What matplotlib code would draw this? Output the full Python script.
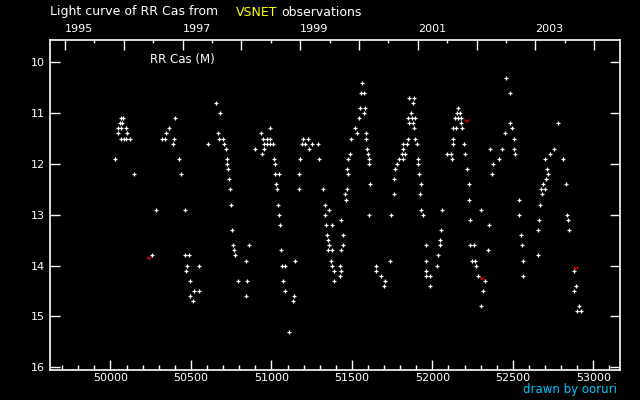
import numpy as np
import matplotlib
matplotlib.use("Agg")
from matplotlib import pyplot as plt
from matplotlib.path import Path

# observations (MJD, visual magnitude)
mjd = [50065, 50079, 50057, 50071, 50048, 50063, 50098, 50045, 50104,
       50067, 50082, 50096, 50119, 50030, 50148, 50284, 50256,
       50402, 50365, 50347, 50396, 50318, 50338, 50390, 50427, 50440, 50465,
       50465, 50486, 50477, 50471, 50552, 50496, 50520, 50548, 50496, 50514,
       50657, 50682, 50670, 50676, 50697, 50607, 50707, 50715, 50725, 50725,
       50732, 50738, 50744, 50748, 50756, 50763, 50769, 50775, 50862, 50843,
       50794, 50850, 50843,
       50937, 50992, 50949, 50970, 50992, 50953, 50974, 50991, 51011, 50899,
       50955, 50943, 51017, 51024, 51024, 51045, 51030, 51036, 51042, 51048,
       51055, 51061, 51146, 51063, 51084, 51073, 51086, 51142, 51135, 51110,
       51197, 51228, 51191, 51208, 51251, 51291, 51231, 51177, 51293, 51172,
       51172,
       51322, 51334, 51359, 51334, 51340, 51378, 51346, 51446, 51353, 51359,
       51442, 51353, 51378, 51433, 51371, 51378, 51427, 51390, 51433, 51427,
       51386, 51433,
       51564, 51558, 51576, 51552, 51581, 51576, 51545, 51520, 51587, 51533,
       51496, 51589, 51595, 51486, 51601, 51477, 51607, 51605, 51471, 51477,
       51614, 51471, 51458, 51465, 51607, 51651, 51651, 51682, 51707, 51700,
       51738, 51744, 51763, 51763, 51769, 51781, 51790, 51818, 51812, 51833,
       51818, 51818, 51840, 51846, 51893, 51887, 51852, 51881, 51850, 51871,
       51891, 51868, 51881, 51856, 51887, 51902, 51908, 51912, 51918, 51930,
       51924, 51930, 51943, 51961, 51961, 51961, 51961, 51983, 51986,
       52030, 52036, 52048, 52048, 52055, 52061, 52094, 52117, 52123, 52129,
       52129, 52129, 52150, 52185, 52179, 52141, 52160, 52179, 52154, 52171,
       52160, 52197, 52204, 52216, 52227, 52228, 52235, 52303, 52353, 52235,
       52258, 52346, 52247, 52268, 52272, 52284, 52328, 52315, 52303, 52359,
       52378, 52415, 52371,
       52458, 52483, 52483, 52496, 52452, 52506, 52430, 52508, 52514, 52539,
       52539, 52554, 52558, 52564, 52564,
       52778, 52756, 52732, 52700, 52812, 52713, 52719, 52705, 52688, 52831,
       52676, 52699, 52682, 52670, 52663, 52657, 52657, 52837, 52843, 52850,
       52881, 52893, 52881, 52912, 52899, 52924]
mag = [11.1, 11.1, 11.2, 11.2, 11.3, 11.3, 11.3, 11.4, 11.4,
       11.5, 11.5, 11.5, 11.5, 11.9, 12.2, 12.9, 13.8,
       11.1, 11.3, 11.4, 11.5, 11.5, 11.5, 11.6, 11.9, 12.2, 12.9,
       13.8, 13.8, 14.0, 14.1, 14.0, 14.3, 14.5, 14.5, 14.6, 14.7,
       10.8, 11.0, 11.4, 11.5, 11.5, 11.6, 11.6, 11.7, 11.9, 12.0,
       12.1, 12.3, 12.5, 12.8, 13.3, 13.6, 13.7, 13.8, 13.6, 13.9,
       14.3, 14.3, 14.6,
       11.4, 11.3, 11.5, 11.5, 11.5, 11.6, 11.6, 11.6, 11.6, 11.7,
       11.7, 11.8, 11.9, 12.0, 12.2, 12.2, 12.4, 12.5, 12.8, 13.0,
       13.2, 13.7, 13.9, 14.0, 14.0, 14.3, 14.5, 14.6, 14.7, 15.3,
       11.5, 11.5, 11.6, 11.6, 11.6, 11.6, 11.7, 11.9, 11.9, 12.2,
       12.5,
       12.5, 12.8, 12.9, 13.0, 13.2, 13.2, 13.4, 13.4, 13.5, 13.6,
       13.6, 13.7, 13.7, 13.7, 13.9, 14.0, 14.0, 14.1, 14.1, 14.2,
       14.3, 13.1,
       10.4, 10.6, 10.6, 10.9, 10.9, 11.0, 11.1, 11.3, 11.4, 11.4,
       11.5, 11.5, 11.7, 11.8, 11.8, 11.9, 11.9, 12.0, 12.1, 12.2,
       12.4, 12.5, 12.6, 12.7, 13.0, 14.0, 14.1, 14.2, 14.3, 14.4,
       13.9, 13.0, 12.6, 12.3, 12.1, 12.0, 11.9, 11.9, 11.8, 11.8,
       11.7, 11.6, 11.6, 11.5, 11.5, 11.3, 11.2, 11.2, 11.1, 11.1,
       11.1, 11.0, 10.8, 10.7, 10.7, 11.6, 11.9, 12.0, 12.2, 12.4,
       12.6, 12.9, 13.0, 13.6, 13.9, 14.1, 14.2, 14.2, 14.4,
       14.0, 13.8, 13.6, 13.5, 13.3, 12.9, 11.8, 11.8, 11.9, 11.6,
       11.5, 11.3, 11.3, 11.3, 11.2, 11.1, 11.1, 11.1, 11.0, 11.0,
       10.9, 11.6, 11.8, 12.1, 12.4, 12.7, 13.1, 12.9, 13.2, 13.6,
       13.6, 13.7, 13.9, 13.9, 14.0, 14.2, 14.3, 14.5, 14.8, 11.7,
       12.0, 11.9, 12.2,
       10.3, 10.6, 11.2, 11.3, 11.4, 11.5, 11.7, 11.7, 11.8, 12.7,
       13.0, 13.4, 13.6, 13.9, 14.2,
       11.2, 11.7, 11.8, 11.9, 11.9, 12.1, 12.2, 12.3, 12.4, 12.4,
       12.5, 12.5, 12.6, 12.8, 13.1, 13.3, 13.8, 13.0, 13.1, 13.3,
       14.1, 14.4, 14.5, 14.8, 14.9, 14.9]

# fainter-than observations (red marks)
lim_mjd = [50241, 52216, 52309, 52893]
lim_mag = [13.85, 11.15, 14.25, 14.05]

# calendar years on the top axis (MJD of 1 January)
years = [1995, 1996, 1997, 1998, 1999, 2000, 2001, 2002, 2003, 2004]
year_mjd = [49718, 50083, 50449, 50814, 51179, 51544, 51910, 52275, 52640, 53005]

fig = plt.figure(figsize=(6.4, 4.0), dpi=100, facecolor="black")
ax = fig.add_axes([0.0786, 0.075, 0.8906, 0.8238], facecolor="black")

ax.plot(mjd, mag, linestyle="none", marker="+", color="white",
        markersize=3.0, markeredgewidth=0.9)

vmark = Path([(-1, 0.6), (0, -0.6), (1, 0.6)],
             [Path.MOVETO, Path.LINETO, Path.LINETO])
ax.scatter(lim_mjd, lim_mag, marker=vmark, s=10, facecolors="none",
           edgecolors="red", linewidths=0.9)

ax.set_xlim(49626, 53168)
ax.set_ylim(16.053, 9.571)

for sp in ax.spines.values():
    sp.set_color("white")
    sp.set_linewidth(1.2)

ax.set_xticks(np.arange(50000, 53001, 500))
ax.set_xticks(np.arange(49700, 53101, 100), minor=True)
ax.set_yticks(np.arange(10, 17, 1))
ax.tick_params(axis="x", which="major", direction="in", length=7.2,
               width=1, colors="white", labelsize=8, pad=2)
ax.tick_params(axis="x", which="minor", direction="in", length=3.6,
               width=1, colors="white")
ax.tick_params(axis="y", which="major", direction="in", length=7.2,
               width=1, colors="white", labelsize=8, pad=4, right=True)

# top axis in years
ax2 = ax.twiny()
ax2.set_xlim(ax.get_xlim())
ax2.set_xticks(year_mjd)
ax2.set_xticklabels([str(y) if y % 2 == 1 else "" for y in years])
ax2.set_xticks([m + 182 for m in year_mjd[:-1]], minor=True)
ax2.tick_params(axis="x", which="major", direction="in", length=7.2,
                width=1, colors="white", labelsize=8, pad=5)
ax2.tick_params(axis="x", which="minor", direction="in", length=2.2,
                width=1, colors="white")
for lab in ax2.get_xticklabels():
    lab.set_ha("left")
for sp in ax2.spines.values():
    sp.set_visible(False)

# texts
fig.text(50 / 640, 1 - 12 / 400, "Light curve of RR Cas from", color="white",
         fontsize=9, va="center", ha="left")
fig.text(236 / 640, 1 - 12 / 400, "VSNET", color="yellow",
         fontsize=9, va="center", ha="left")
fig.text(281 / 640, 1 - 12 / 400, "observations", color="white",
         fontsize=9, va="center", ha="left")
fig.text(150 / 640, 1 - 60 / 400, "RR Cas (M)", color="white",
         fontsize=8.5, va="center", ha="left")
fig.text(617 / 640, 1 - 390 / 400, "drawn by ooruri", color="#00c8ff",
         fontsize=8.5, va="center", ha="right")

plt.savefig("out.png", dpi=100, facecolor="black")
